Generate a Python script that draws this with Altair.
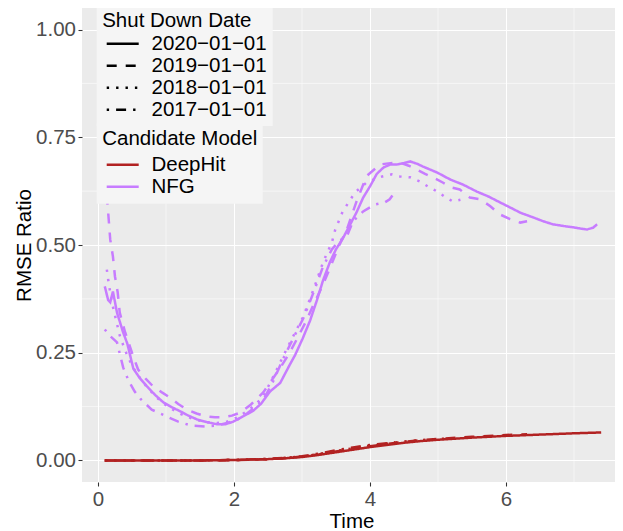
import altair as alt
import pandas as pd

# ---------------- data ----------------
dates = ["2020−01−01", "2019−01−01", "2018−01−01", "2017−01−01"]
models = ["DeepHit", "NFG"]

nfg_2020_t = [0.10, 0.15, 0.18, 0.22, 0.28, 0.37, 0.43, 0.52, 0.62, 0.72, 0.84, 0.96, 1.08, 1.21, 1.33,
              1.46, 1.60, 1.75, 1.87, 1.99, 2.13, 2.28, 2.40, 2.53, 2.68, 2.82, 2.90, 3.01, 3.12, 3.22,
              3.31, 3.41, 3.50, 3.60, 3.70, 3.80, 3.90, 4.00, 4.10, 4.20, 4.30, 4.40, 4.50, 4.59, 4.70,
              4.78, 4.90, 4.99, 5.18, 5.37, 5.57, 5.75, 5.91, 6.05, 6.21, 6.40, 6.55, 6.69, 6.85, 6.99,
              7.10, 7.19, 7.28, 7.34]
nfg_2020_v = [0.404, 0.372, 0.367, 0.392, 0.343, 0.297, 0.272, 0.213, 0.190, 0.172, 0.152, 0.135, 0.124,
              0.114, 0.104, 0.095, 0.089, 0.084, 0.084, 0.090, 0.102, 0.115, 0.132, 0.160, 0.180, 0.222,
              0.245, 0.283, 0.325, 0.372, 0.418, 0.460, 0.490, 0.515, 0.545, 0.575, 0.610, 0.636, 0.665,
              0.680, 0.687, 0.687, 0.690, 0.694, 0.688, 0.682, 0.674, 0.668, 0.652, 0.640, 0.624, 0.612,
              0.599, 0.588, 0.575, 0.564, 0.555, 0.548, 0.544, 0.541, 0.538, 0.536, 0.540, 0.548]

nfg_2019_t = [0.13, 0.18, 0.22, 0.25, 0.29, 0.32, 0.40, 0.50, 0.59, 0.70, 0.81, 0.94, 1.06, 1.18, 1.31,
              1.45, 1.60, 1.72, 1.84, 1.97, 2.09, 2.25, 2.43, 2.55, 2.68, 2.80, 2.92, 3.05, 3.18, 3.30,
              3.42, 3.55, 3.66, 3.80, 3.95, 4.15, 4.30, 4.44, 4.57, 4.69, 4.81, 4.93, 5.07, 5.21, 5.32,
              5.47, 5.62, 5.77, 5.91, 6.06, 6.21, 6.31]
nfg_2019_v = [0.617, 0.513, 0.473, 0.427, 0.390, 0.343, 0.297, 0.250, 0.211, 0.190, 0.172, 0.158, 0.146,
              0.131, 0.118, 0.109, 0.102, 0.100, 0.100, 0.104, 0.111, 0.130, 0.158, 0.185, 0.215, 0.245,
              0.280, 0.320, 0.365, 0.405, 0.450, 0.500, 0.536, 0.600, 0.660, 0.687, 0.690, 0.691, 0.684,
              0.675, 0.665, 0.657, 0.645, 0.633, 0.629, 0.610, 0.606, 0.590, 0.571, 0.560, 0.552, 0.555]

nfg_2018_t = [0.13, 0.15, 0.20, 0.26, 0.32, 0.40, 0.50, 0.60, 0.72, 0.85, 1.00, 1.15, 1.30, 1.45, 1.60,
              1.75, 1.90, 2.05, 2.20, 2.32, 2.43, 2.58, 2.72, 2.87, 3.02, 3.17, 3.31, 3.44, 3.49, 3.60,
              3.78, 3.95, 4.10, 4.18, 4.32, 4.44, 4.59, 4.74, 4.85, 4.99, 5.10, 5.22, 5.33]
nfg_2018_v = [0.443, 0.420, 0.370, 0.330, 0.290, 0.255, 0.220, 0.195, 0.170, 0.148, 0.128, 0.113, 0.102,
              0.094, 0.089, 0.087, 0.090, 0.100, 0.115, 0.130, 0.149, 0.195, 0.241, 0.288, 0.334, 0.397,
              0.460, 0.506, 0.536, 0.578, 0.622, 0.645, 0.655, 0.659, 0.664, 0.659, 0.657, 0.647, 0.636,
              0.624, 0.612, 0.601, 0.605]

nfg_2017_t = [0.10, 0.17, 0.28, 0.37, 0.45, 0.54, 0.63, 0.79, 0.90, 1.01, 1.18, 1.37, 1.57, 1.75, 1.90,
              2.05, 2.20, 2.32, 2.43, 2.58, 2.72, 2.87, 3.02, 3.17, 3.31, 3.44, 3.55, 3.66, 3.75, 3.90,
              4.07, 4.22, 4.29, 4.37]
nfg_2017_v = [0.304, 0.290, 0.274, 0.216, 0.185, 0.160, 0.142, 0.118, 0.110, 0.102, 0.090, 0.081, 0.079,
              0.081, 0.087, 0.095, 0.110, 0.125, 0.140, 0.185, 0.235, 0.283, 0.330, 0.390, 0.450, 0.490,
              0.510, 0.520, 0.555, 0.578, 0.594, 0.599, 0.606, 0.624]

dh_2020_t = [0.10, 0.50, 1.00, 1.50, 2.00, 2.50, 2.75, 3.00, 3.25, 3.50, 3.75, 4.00, 4.25, 4.50, 4.75,
             5.00, 5.50, 6.00, 6.50, 7.00, 7.40]
dh_2020_v = [0.000, 0.000, 0.000, 0.000, 0.001, 0.003, 0.005, 0.008, 0.013, 0.019, 0.025, 0.031, 0.036,
             0.041, 0.045, 0.048, 0.053, 0.057, 0.060, 0.063, 0.065]
dh_2019_t = [0.10, 0.50, 1.00, 1.50, 2.00, 2.50, 2.75, 3.00, 3.25, 3.50, 3.75, 4.00, 4.25, 4.50, 4.75,
             5.00, 5.50, 6.00, 6.31]
dh_2019_v = [0.000, 0.000, 0.000, 0.000, 0.001, 0.003, 0.005, 0.009, 0.014, 0.021, 0.027, 0.033, 0.038,
             0.043, 0.047, 0.050, 0.055, 0.059, 0.061]
dh_2018_t = [0.10, 0.50, 1.00, 1.50, 2.00, 2.50, 2.75, 3.00, 3.25, 3.50, 3.75, 4.00, 4.25, 4.50, 4.75,
             5.00, 5.33]
dh_2018_v = [0.000, 0.000, 0.000, 0.000, 0.001, 0.003, 0.006, 0.009, 0.015, 0.022, 0.028, 0.034, 0.039,
             0.044, 0.047, 0.050, 0.052]
dh_2017_t = [0.10, 0.50, 1.00, 1.50, 2.00, 2.50, 2.75, 3.00, 3.25, 3.50, 3.75, 4.00, 4.25, 4.37]
dh_2017_v = [0.000, 0.000, 0.000, 0.000, 0.001, 0.004, 0.006, 0.010, 0.016, 0.024, 0.030, 0.036, 0.040,
             0.042]

x_ticks = [0, 2, 4, 6]
x_minor = [1, 3, 5, 7]
y_ticks = [0, 0.25, 0.5, 0.75, 1.0]
y_minor = [0.125, 0.375, 0.625, 0.875]

colors = ["#B22222", "#C77CFF"]
dashes = [[1, 0], [10, 9], [2.4, 7], [2.4, 7, 10, 7]]

# ---------------- build table ----------------
series = [
    ("NFG", dates[0], nfg_2020_t, nfg_2020_v),
    ("NFG", dates[1], nfg_2019_t, nfg_2019_v),
    ("NFG", dates[2], nfg_2018_t, nfg_2018_v),
    ("NFG", dates[3], nfg_2017_t, nfg_2017_v),
    ("DeepHit", dates[0], dh_2020_t, dh_2020_v),
    ("DeepHit", dates[1], dh_2019_t, dh_2019_v),
    ("DeepHit", dates[2], dh_2018_t, dh_2018_v),
    ("DeepHit", dates[3], dh_2017_t, dh_2017_v),
]
rows = []
for m, d, ts, vs in series:
    for t, v in zip(ts, vs):
        rows.append({"Time": t, "RMSE": v, "Model": m, "Date": d})
df = pd.DataFrame(rows)

FS = 20.5
W, H = 533, 474
xscale = alt.Scale(domain=[-0.235, -0.235 + W / 68.0], nice=False, zero=False)
yscale = alt.Scale(domain=[-0.05, 1.05], nice=False, zero=False)

x_axis = alt.Axis(values=x_ticks, format="d", title="Time", grid=True, gridColor="white",
                  gridWidth=1.07, domain=False, tickColor="#333333", tickSize=4, tickWidth=1.07,
                  labelColor="#4D4D4D", labelFontSize=FS, labelPadding=3, labelFlush=False,
                  labelOverlap=False, titleFontSize=FS, titleFontWeight="normal", titleColor="black",
                  titleX=269.5, titleY=45, titleBaseline="alphabetic", titleAlign="center")
y_axis = alt.Axis(values=y_ticks, format=".2f", title="RMSE Ratio", grid=True, gridColor="white",
                  gridWidth=1.07, domain=False, tickColor="#333333", tickSize=4, tickWidth=1.07,
                  labelColor="#4D4D4D", labelFontSize=FS, labelPadding=2.5, labelFlush=False,
                  labelOverlap=False, titleFontSize=FS, titleFontWeight="normal", titleColor="black",
                  titleX=-52, titleY=237, titleBaseline="alphabetic", titleAlign="center",
                  titleAngle=270)

common_legend = dict(orient="none", symbolType="stroke", symbolSize=1024, symbolStrokeWidth=2.3,
                     fillColor="#F5F5F5", padding=5.5, titleFontSize=FS, labelFontSize=FS,
                     titleFontWeight="normal", titleColor="black", labelColor="black",
                     rowPadding=0, clipHeight=19.5, symbolOffset=3,
                     labelOffset=11.3, direction="vertical", titleAnchor="start", labelLimit=300,
                     titleLimit=300)

minor_x = alt.Chart(pd.DataFrame({"Time": x_minor})).mark_rule(
    color="white", strokeWidth=0.55).encode(x=alt.X("Time:Q", scale=xscale, axis=x_axis))
minor_y = alt.Chart(pd.DataFrame({"RMSE": y_minor})).mark_rule(
    color="white", strokeWidth=0.55).encode(y=alt.Y("RMSE:Q", scale=yscale, axis=y_axis))

lines = alt.Chart(df).mark_line(strokeWidth=2.5).encode(
    x=alt.X("Time:Q", scale=xscale, axis=x_axis),
    y=alt.Y("RMSE:Q", scale=yscale, axis=y_axis),
    color=alt.Color("Model:N", scale=alt.Scale(domain=models, range=colors),
                    legend=alt.Legend(title="Candidate Model", legendX=14.7, legendY=115.7,
                                      titlePadding=5.3, **common_legend)),
    strokeDash=alt.StrokeDash("Date:N", scale=alt.Scale(domain=dates, range=dashes),
                              legend=alt.Legend(title="Shut Down Date", legendX=14.7, legendY=-3,
                                                titlePadding=3.0, symbolStrokeColor="black",
                                                **common_legend)),
)

chart = alt.layer(minor_x, minor_y, lines).properties(
    width=W, height=H,
    autosize=alt.AutoSizeParams(type="none"),
    padding={"left": 74, "top": 0, "right": 0, "bottom": 49},
).configure(font="Liberation Sans").configure_view(fill="#EBEBEB", stroke=None)

chart.save("out.html", embed_options={"renderer": "svg", "actions": False})
